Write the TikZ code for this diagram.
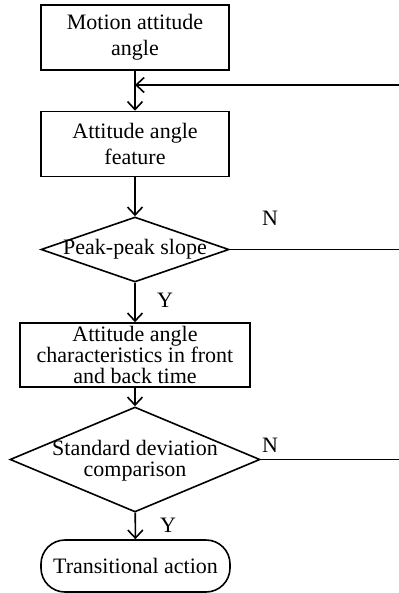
\documentclass[tikz,border=0pt]{standalone}
\usepackage{fontspec}
\setmainfont{Liberation Serif}
\usepackage{tikz}
\usetikzlibrary{arrows.meta,shapes.geometric}

\begin{document}
\begin{tikzpicture}[
  x=0.5pt,y=-0.5pt,
  >={Straight Barb[length=4pt,width=7.5pt]},
  line width=0.8pt,
  font=\fontsize{11}{13}\selectfont,
  box/.style={rectangle,draw,align=center,inner sep=0pt,
    minimum width=94pt,minimum height=32.5pt},
  decision/.style={diamond,draw,inner sep=0pt},
  term/.style={rectangle,draw,rounded corners=12pt,inner sep=0pt,
    minimum width=94.5pt,minimum height=26pt},
  lab/.style={inner sep=0pt},
  arr/.style={->}
]
\useasboundingbox (0,0) rectangle (399,593);
% main column
\node[box] (motion) at (135,37.5) {Motion attitude\\angle};
\node[box] (feature) at (135,144) {Attitude angle\\feature};
\node[decision,minimum width=94pt,minimum height=32.5pt] (peak) at (135,249.5)
  {\makebox[0pt]{Peak-peak slope}};
\node[box,minimum width=115pt,minimum height=32pt,
  font=\fontsize{11}{10.5}\selectfont] (front) at (135,355)
  {Attitude angle\\characteristics in front\\and back time};
\node[decision,minimum width=125pt,minimum height=52.5pt] (std) at (135,459.5)
  {\makebox[0pt]{\fontsize{11}{9.5}\selectfont\raisebox{-7.25pt}{\smash{%
   \begin{tabular}{@{}c@{}}Standard deviation\\comparison\end{tabular}}}}};
\node[term] (trans) at (135.5,566) {Transitional action};
% flow
\draw[arr] (motion) -- (feature);
\draw[arr] (feature) -- (peak);
\draw[arr] (peak) -- (front);
\draw[arr] (front) -- (std);
\draw[arr] (std) -- (trans);
% loop back from the right
\coordinate (back) at (399,85);
\draw[arr] (back) -- (back -| motion.south);
\draw (peak.east) -- (peak.east -| back);
\draw (std.east) -- (std.east -| back);
% branch labels
\node[lab] (n1) at (270,218) {N};
\node[lab] (y1) at (165,300) {Y};
\node[lab] (n2) at (270,445) {N};
\node[lab] (y2) at (168,525) {Y};
\end{tikzpicture}
\end{document}
